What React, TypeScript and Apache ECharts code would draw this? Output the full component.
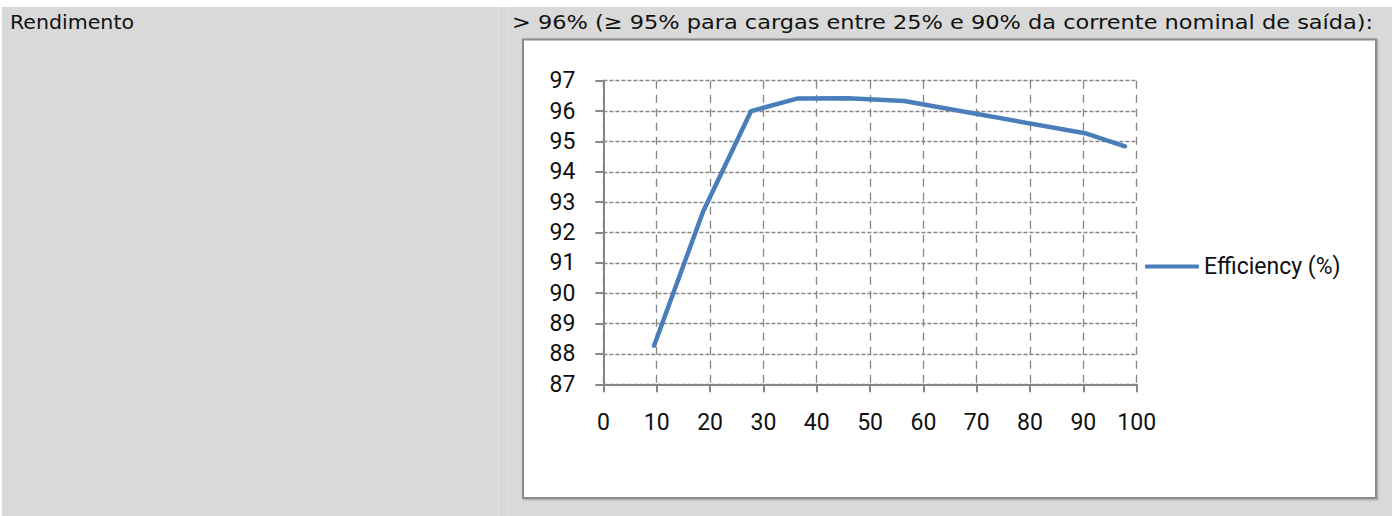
import React, { useEffect, useRef } from "react";
import * as echarts from "echarts";

const loadPct = [9.5, 18.7, 27.7, 36.3, 45.9, 56.4, 90.3, 97.8];
const efficiency = [88.27, 92.69, 96.0, 96.41, 96.42, 96.33, 95.27, 94.84];
const seriesName = "Efficiency (%)";
const rowLabel = "Rendimento";
const rowText = "> 96% (≥ 95% para cargas entre 25% e 90% da corrente nominal de saída):";

const headerFont = "20px 'DejaVu Sans'";

function measure(text: string) {
  const canvas = document.createElement("canvas");
  const ctx = canvas.getContext("2d");
  if (!ctx) return text.length * 10.4;
  ctx.font = headerFont;
  return ctx.measureText(text).width;
}

export default function App() {
  const ref = useRef<HTMLDivElement>(null);
  useEffect(() => {
    if (!ref.current) return;
    const chart = echarts.init(ref.current, null, { renderer: "svg" });
    const data = loadPct.map((x, i) => [x, efficiency[i]]);
    const axisGray = "#868686";
    const chartFont = "Roboto";
    const textLeft = 512;
    const textRight = 1374;
    const stretch = (textRight - textLeft) / measure(rowText);
    const labelStretch = 124 / measure(rowLabel);
    chart.setOption({
      animation: false,
      graphic: [
        { type: "rect", z: -10, shape: { x: 0, y: 0, width: 1392, height: 516 }, style: { fill: "#ffffff" } },
        { type: "rect", z: -9, shape: { x: 2, y: 7, width: 1390, height: 509 }, style: { fill: "#d9d9d9" } },
        { type: "line", z: -8, shape: { x1: 498.5, y1: 7, x2: 498.5, y2: 516 }, style: { stroke: "#e4e4e4", lineWidth: 1 } },
        { type: "line", z: -8, shape: { x1: 507.5, y1: 7, x2: 507.5, y2: 516 }, style: { stroke: "#e4e4e4", lineWidth: 1 } },
        {
          type: "rect", z: -7,
          shape: { x: 523, y: 39.5, width: 853, height: 458.5 },
          style: { fill: "#ffffff", stroke: "#8a8a8a", lineWidth: 2, shadowBlur: 2, shadowColor: "rgba(0,0,0,0.25)", shadowOffsetX: 1, shadowOffsetY: 1 },
        },
        { type: "text", z: 5, x: 10, y: 22, scaleX: labelStretch, style: { text: rowLabel, font: headerFont, fill: "#111111", verticalAlign: "middle", align: "left" } },
        { type: "text", z: 5, x: textLeft, y: 22, scaleX: stretch, style: { text: rowText, font: headerFont, fill: "#111111", verticalAlign: "middle", align: "left" } },
      ],
      grid: { left: 603.4, right: 255.3, top: 80.7, bottom: 131.7, containLabel: false },
      legend: {
        show: true,
        left: 1145,
        top: 255,
        padding: 0,
        itemWidth: 54,
        itemHeight: 4,
        textStyle: { fontFamily: chartFont, fontSize: 23, color: "#111111", lineHeight: 23 },
        data: [{ name: seriesName, icon: "roundRect" }],
      },
      xAxis: {
        type: "value",
        min: 0,
        max: 100,
        interval: 10,
        axisLine: { show: true, lineStyle: { color: axisGray, width: 2 } },
        axisTick: { show: true, inside: false, length: 8, lineStyle: { color: axisGray, width: 2 } },
        axisLabel: { margin: 27, fontFamily: chartFont, fontSize: 23, color: "#111111" },
        splitLine: { show: true, lineStyle: { color: axisGray, width: 1.3, type: [8, 6] } },
      },
      yAxis: {
        type: "value",
        min: 87,
        max: 97,
        interval: 1,
        axisLine: { show: true, lineStyle: { color: axisGray, width: 2 } },
        axisTick: { show: true, inside: false, length: 8, lineStyle: { color: axisGray, width: 2 } },
        axisLabel: { margin: 28, fontFamily: chartFont, fontSize: 23, color: "#111111" },
        splitLine: { show: true, lineStyle: { color: axisGray, width: 1.3, type: [4, 2] } },
      },
      series: [
        {
          name: seriesName,
          type: "line",
          data,
          showSymbol: false,
          symbol: "none",
          lineStyle: { color: "#4a7ebb", width: 4.5, cap: "round", join: "round" },
          itemStyle: { color: "#4a7ebb" },
        },
      ],
    });
    return () => chart.dispose();
  }, []);
  return <div ref={ref} style={{ position: "absolute", left: 0, top: 0, width: 1392, height: 516 }} />;
}
